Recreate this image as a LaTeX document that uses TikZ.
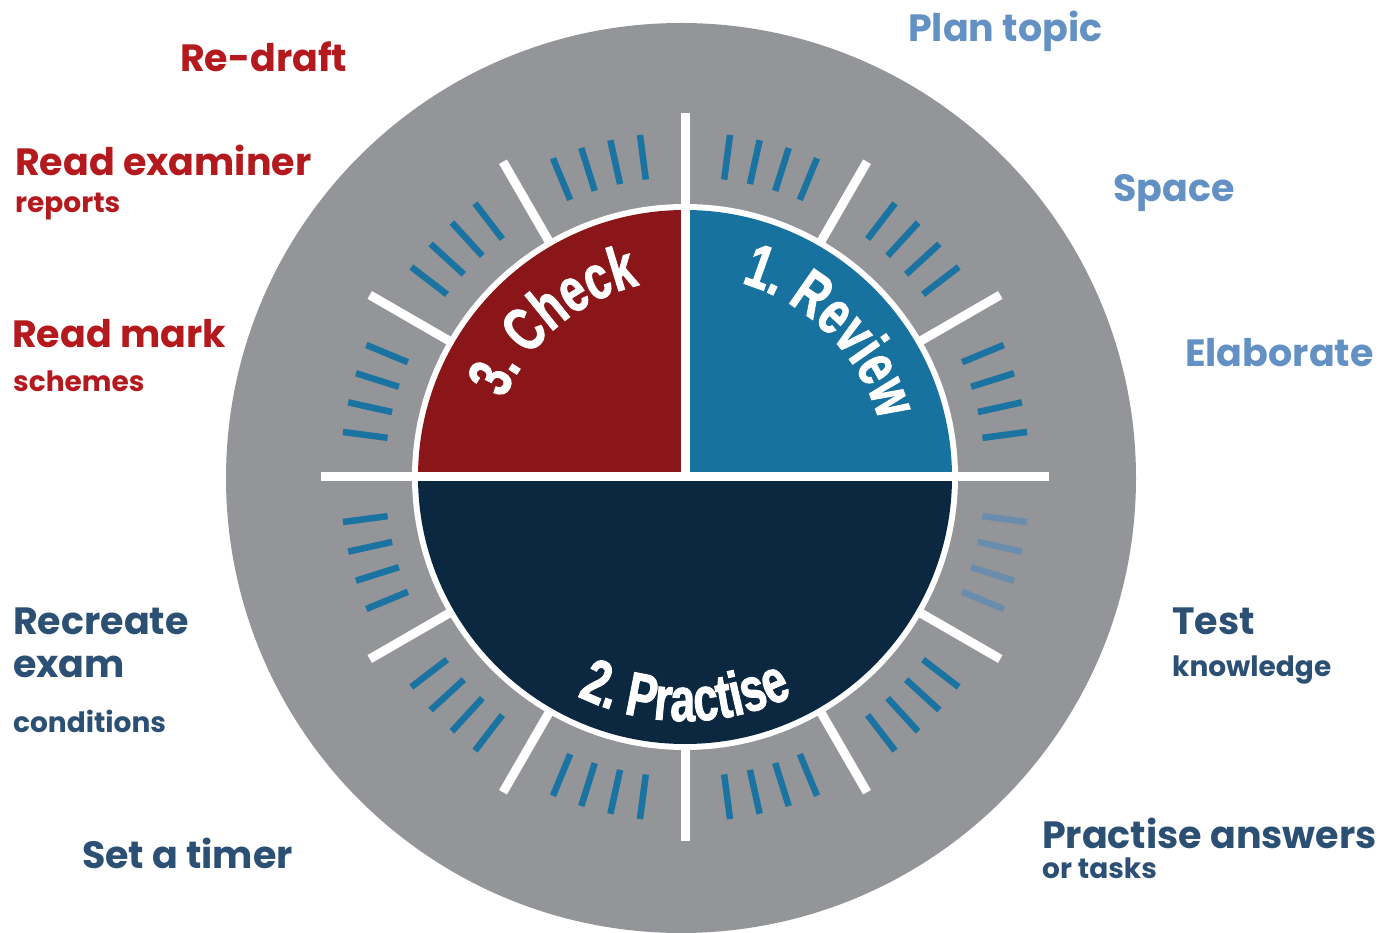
\documentclass[tikz,border=0pt]{standalone}
\usepackage{fontspec}
\setmainfont{Poppins}
\newfontfamily\innerfont{Liberation Sans}[UprightFont={* Bold}, FakeStretch=0.72, FakeBold=1.5]
\usetikzlibrary{calc,decorations.text}
\definecolor{ringgray}{HTML}{939598}
\definecolor{checkred}{HTML}{8A1619}
\definecolor{reviewblue}{HTML}{17729F}
\definecolor{practnavy}{HTML}{0B2840}
\definecolor{tickblue}{HTML}{1A73A0}
\definecolor{fadetick}{HTML}{6A8DAD}
\definecolor{labred}{HTML}{B3191D}
\definecolor{lablight}{HTML}{6391C3}
\definecolor{labdark}{HTML}{2B5074}
\newcommand\inlab{\innerfont\fontsize{62}{62}\selectfont\color{white}}
\tikzset{
  spoke/.style={draw=white, line width=9pt},
  tickmark/.style={draw=tickblue, line width=6.5pt},
  fadedtick/.style={draw=fadetick, line width=6.5pt},
  biglab/.style={anchor=base west, inner sep=0pt, font=\bfseries\fontsize{38}{38}\selectfont},
  smalllab/.style={anchor=base west, inner sep=0pt, font=\bfseries\fontsize{28}{28}\selectfont},
}
\begin{document}
\begin{tikzpicture}[x=1pt,y=1pt]
\useasboundingbox (0,0) rectangle (1381,932);
\coordinate (C) at (685,455);
\coordinate (G) at (681,454);
% outer ring
\fill[ringgray] (G) circle (455);
% ticks
\foreach \s in {0,30,...,300}{
  \foreach \k in {7.5,12.5,17.5,22.5}{
    \draw[tickmark] ($(C)+(\s+\k:300)$) -- ($(C)+(\s+\k:345)$);
  }
}
\foreach \k in {7.5,12.5,17.5,22.5}{
  \draw[fadedtick] ($(C)+(330+\k:300)$) -- ($(C)+(330+\k:345)$);
}
% pie
\fill[white] (C) circle (273);
\fill[reviewblue] (C) -- ($(C)+(0:267)$) arc[start angle=0,end angle=90,radius=267] -- cycle;
\fill[checkred] (C) -- ($(C)+(90:267)$) arc[start angle=90,end angle=180,radius=267] -- cycle;
\fill[practnavy] (C) -- ($(C)+(180:267)$) arc[start angle=180,end angle=360,radius=267] -- cycle;
% spokes and dividers
\draw[spoke] ($(C)+(-364,0)$) -- ($(C)+(364,0)$);
\draw[spoke] (C) -- ($(C)+(0,364)$);
\draw[spoke] ($(C)+(0,-270)$) -- ($(C)+(0,-364)$);
\foreach \a in {30,60,120,150,210,240,300,330}{
  \draw[spoke] ($(C)+(\a:271)$) -- ($(C)+(\a:364)$);
}
% inner labels
\path[decorate,decoration={text along path,text align=center,text={|\inlab|1. Review}}]
  ($(C)+(90:202)$) arc[start angle=90,end angle=0,radius=202];
\path[decorate,decoration={text along path,text align=center,text={|\inlab|3. Check}}]
  ($(C)+(175:197)$) arc[start angle=175,end angle=85,radius=197];
\path[decorate,decoration={text along path,text align=center,text={|\inlab|2. Practise}}]
  ($(C)+(225:244)$) arc[start angle=225,end angle=315,radius=244];
% outer labels
\node[biglab, text=labred] (redraft) at (180,860) {Re-draft};
\node[biglab, text=labred] (readex) at (15,756) {Read examiner};
\node[smalllab, text=labred] (reports) at (15,719) {reports};
\node[biglab, text=labred] (readmark) at (12,584) {Read mark};
\node[smalllab, text=labred] (schemes) at (13,540) {schemes};
\node[biglab, text=lablight] (plan) at (908,890) {Plan topic};
\node[biglab, text=lablight] (space) at (1113,730) {Space};
\node[biglab, text=lablight] (elab) at (1185,565) {Elaborate};
\node[biglab, text=labdark] (test) at (1172,297) {Test};
\node[smalllab, text=labdark] (know) at (1172,255) {knowledge};
\node[biglab, text=labdark] (pans) at (1042,84) {Practise answers};
\node[smalllab, text=labdark] (tasks) at (1042,54) {or tasks};
\node[biglab, text=labdark] (recreate) at (13,297) {Recreate};
\node[biglab, text=labdark] (exam) at (13,254) {exam};
\node[smalllab, text=labdark] (cond) at (13,200) {conditions};
\node[biglab, text=labdark] (timer) at (82,64) {Set a timer};
\end{tikzpicture}
\end{document}
